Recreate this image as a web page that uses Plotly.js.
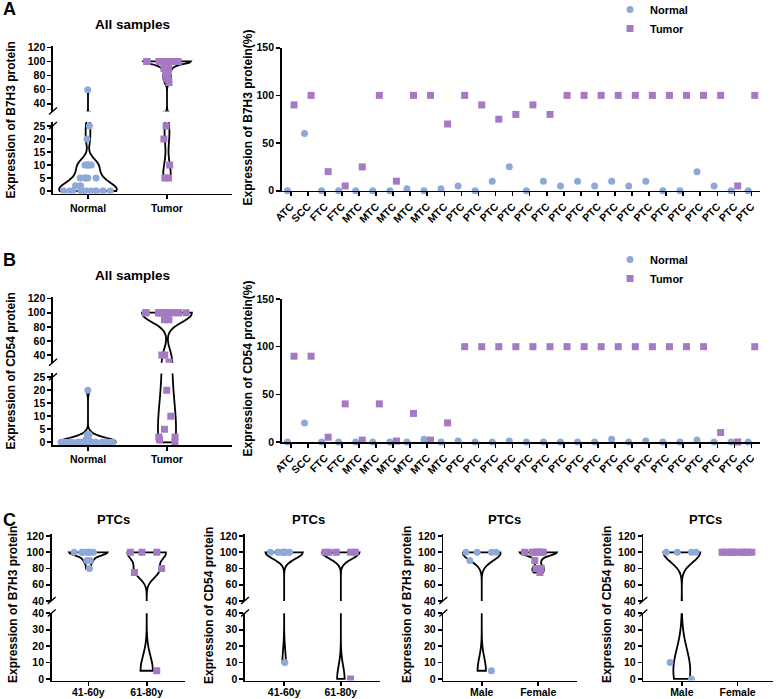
<!DOCTYPE html>
<html>
<head>
<meta charset="utf-8">
<script src="https://cdn.plot.ly/plotly-3.0.1.min.js"></script>
<style>
  body { margin: 0; background: white; }
  #plot { width: 777px; height: 699px; }
</style>
</head>
<body>
<div id="plot"></div>
<script>
// per-sample expression, 28 thyroid cancer cases
const sampleTypes = ['ATC', 'SCC', 'FTC', 'FTC', 'MTC', 'MTC', 'MTC', 'MTC', 'MTC', 'MTC',
    'PTC', 'PTC', 'PTC', 'PTC', 'PTC', 'PTC', 'PTC', 'PTC', 'PTC', 'PTC',
    'PTC', 'PTC', 'PTC', 'PTC', 'PTC', 'PTC', 'PTC', 'PTC'];
const b7h3Normal = [0, 60, 0, 0, 0, 0, 0, 2, 0, 2, 5, 0, 10, 25, 0, 10, 5, 10, 5, 10, 5, 10, 0, 0, 20, 5, 0, 0];
const b7h3Tumor = [90, 100, 20, 5, 25, 100, 10, 100, 100, 70, 100, 90, 75, 80, 90, 80, 100, 100, 100, 100,
    100, 100, 100, 100, 100, 100, 5, 100];
const cd54Normal = [0, 20, 0, 0, 0, 0, 0, 0, 3, 0, 1, 0, 0, 1, 0, 0, 0, 0, 0, 3, 0, 1, 0, 0, 2, 0, 0, 0];
const cd54Tumor = [90, 90, 5, 40, 2, 40, 1, 30, 2, 20, 100, 100, 100, 100, 100, 100, 100, 100, 100, 100,
    100, 100, 100, 100, 100, 10, 0, 100];

// PTC subgroups
const groupCats = ['Normal', 'Tumor'];
const ageCats = ['41-60y', '61-80y'];
const sexCats = ['Male', 'Female'];
const b7h3Age41 = [100, 100, 100, 100, 100, 100, 100, 100, 100, 90, 90, 80];
const b7h3Age61 = [100, 100, 100, 80, 75, 5];
const cd54Age41 = [100, 100, 100, 100, 100, 100, 100, 100, 100, 100, 100, 10];
const cd54Age61 = [100, 100, 100, 100, 100, 0];
const b7h3Male = [100, 100, 100, 100, 90, 5];
const b7h3Female = [100, 100, 100, 100, 100, 100, 100, 100, 90, 80, 80, 75];
const cd54Male = [100, 100, 100, 100, 10, 0];
const cd54Female = [100, 100, 100, 100, 100, 100, 100, 100, 100, 100, 100, 100];

const W = 777, H = 699;
const BLUE = '#8DA9D8', PURPLE = '#A679C4';
const FONT = 'Liberation Sans, Arial, sans-serif';

let data = [];
let layout = {
    width: W,
    height: H,
    margin: {l: 0, r: 0, t: 0, b: 0, autoexpand: false},
    paper_bgcolor: 'white',
    plot_bgcolor: 'rgba(0,0,0,0)',
    font: {family: FONT, color: 'black'},
    violinmode: 'overlay',
    scattermode: 'group',
    scattergap: 0.23,
    annotations: [],
    shapes: []
};

let xCount = 0, yCount = 0;
const axisId = (l, n) => n === 1 ? l : l + n;
const axisKey = (l, n) => l + 'axis' + (n === 1 ? '' : n);

function baseAxis(extra) {
    return Object.assign({
        showline: true, linecolor: 'black', linewidth: 1.6,
        ticks: 'outside', ticklen: 4, tickwidth: 1.6, tickcolor: 'black',
        showgrid: false, zeroline: false, fixedrange: true,
        tickfont: {family: FONT, size: 10.5, weight: 'bold', color: 'black'}
    }, extra);
}

function addText(text, x, y, size, angle) {
    layout.annotations.push({
        text: text, x: x / W, y: 1 - y / H, xref: 'paper', yref: 'paper',
        xanchor: 'center', yanchor: 'middle', showarrow: false, textangle: angle || 0,
        font: {family: FONT, size: size, weight: 'bold', color: 'black'}
    });
}

function breakMark(x, y) {
    layout.shapes.push({
        type: 'line', xref: 'paper', yref: 'paper',
        x0: (x - 4) / W, y0: 1 - (y + 3.5) / H, x1: (x + 4) / W, y1: 1 - (y - 3.5) / H,
        line: {color: 'black', width: 1.4}
    });
}

// violin panel with a broken y axis: same violins drawn in two stacked subplots
function brokenViolin(p) {
    const xn = ++xCount, bn = ++yCount, tn = ++yCount;
    const xa = axisId('x', xn), yb = axisId('y', bn), yt = axisId('y', tn);
    layout[axisKey('x', xn)] = baseAxis({
        domain: [p.left / W, p.right / W], anchor: yb, type: 'category',
        categoryorder: 'array', categoryarray: p.cats, range: p.xrange,
        ticklabelstandoff: p.standoff || 0
    });
    layout[axisKey('y', bn)] = baseAxis({
        domain: [1 - p.bot.px[1] / H, 1 - p.bot.px[0] / H], anchor: xa,
        range: p.bot.range, tickvals: p.bot.ticks
    });
    layout[axisKey('y', tn)] = baseAxis({
        domain: [1 - p.top.px[1] / H, 1 - p.top.px[0] / H], anchor: xa,
        range: p.top.range, tickvals: p.top.ticks
    });
    p.groups.forEach(g => {
        [yb, yt].forEach(ya => {
            data.push({
                type: 'violin', x: g.values.map(() => g.name), y: g.values,
                xaxis: xa, yaxis: ya, spanmode: 'hard', scalemode: 'width',
                points: 'all', pointpos: 0, jitter: 1, width: g.width, bandwidth: g.bw,
                line: {color: 'black', width: g.bw ? 1.8 : 0}, fillcolor: 'rgba(0,0,0,0)',
                marker: {color: g.color, symbol: g.symbol, size: 7, line: {width: 0}},
                showlegend: false, hoverinfo: 'skip'
            });
        });
    });
    breakMark(p.left, p.breaks[0]);
    breakMark(p.left, p.breaks[1]);
}

function samplePanel(p) {
    const xn = ++xCount, yn = ++yCount;
    const xa = axisId('x', xn), ya = axisId('y', yn);
    const idx = sampleTypes.map((t, i) => i);
    layout[axisKey('x', xn)] = baseAxis({
        domain: [p.left / W, p.right / W], anchor: ya, type: 'category',
        range: [-0.53, 27.5], tickvals: idx, ticktext: sampleTypes, tickangle: -45
    });
    layout[axisKey('y', yn)] = baseAxis({
        domain: [1 - p.px[1] / H, 1 - p.px[0] / H], anchor: xa,
        range: [0, 150], tickvals: [0, 50, 100, 150]
    });
    data.push({
        type: 'scatter', mode: 'markers', name: 'Normal', x: idx, y: p.normal,
        xaxis: xa, yaxis: ya, legend: p.legend, cliponaxis: false,
        marker: {color: BLUE, symbol: 'circle', size: 7}, hoverinfo: 'skip'
    });
    data.push({
        type: 'scatter', mode: 'markers', name: 'Tumor', x: idx, y: p.tumor,
        xaxis: xa, yaxis: ya, legend: p.legend, cliponaxis: false,
        marker: {color: PURPLE, symbol: 'square', size: 7}, hoverinfo: 'skip'
    });
}

const allTop = {range: [29, 122], ticks: [40, 60, 80, 100, 120]};
const allBot = {range: [-1, 26.5], ticks: [0, 5, 10, 15, 20, 25]};
const dyB = 251.3;

// ---- A: B7H3
brokenViolin({
    left: 53, right: 232, xrange: [-0.443, 1.823], cats: groupCats,
    top: Object.assign({px: [45.9, 111.5]}, allTop),
    bot: Object.assign({px: [122.1, 193.6]}, allBot),
    breaks: [111, 125.5],
    groups: [
        {name: 'Normal', values: b7h3Normal, color: BLUE, symbol: 'circle', width: 0.73, bw: 2.6},
        {name: 'Tumor', values: b7h3Tumor, color: PURPLE, symbol: 'square', width: 0.6, bw: 4}
    ]
});
samplePanel({left: 281.7, right: 760, px: [47.7, 190.7], normal: b7h3Normal, tumor: b7h3Tumor, legend: 'legend'});

// ---- B: CD54
brokenViolin({
    left: 53, right: 232, xrange: [-0.443, 1.823], cats: groupCats,
    top: Object.assign({px: [45.9 + dyB, 111.5 + dyB]}, allTop),
    bot: Object.assign({px: [122.1 + dyB, 193.6 + dyB]}, allBot),
    breaks: [111 + dyB, 125.5 + dyB],
    groups: [
        {name: 'Normal', values: cd54Normal, color: BLUE, symbol: 'circle', width: 0.7, bw: 1.5},
        {name: 'Tumor', values: cd54Tumor, color: PURPLE, symbol: 'square', width: 0.63, bw: 12}
    ]
});
samplePanel({left: 281.7, right: 760, px: [47.7 + dyB, 190.7 + dyB], normal: cd54Normal, tumor: cd54Tumor, legend: 'legend2'});

// ---- C: PTC subgroups
const cTop = {range: [40, 123], ticks: [40, 60, 80, 100, 120], px: [533.6, 601]};
const cBot = {range: [-1, 40], ticks: [0, 10, 20, 30, 40], px: [613.3, 680.6]};
const cPanels = [
    {left: 51.7, right: 185, xrange: [-0.627, 1.656], cats: ageCats, a: b7h3Age41, b: b7h3Age61, bw: [4, 9]},
    {left: 245, right: 380, xrange: [-0.69, 1.69], cats: ageCats, a: cd54Age41, b: cd54Age61, bw: [8, 8]},
    {left: 443.3, right: 576.7, xrange: [-0.68, 1.68], cats: sexCats, a: b7h3Male, b: b7h3Female, bw: [8, 4]},
    {left: 643.3, right: 773.3, xrange: [-0.69, 1.64], cats: sexCats, a: cd54Male, b: cd54Female, bw: [12, 0]}
];
cPanels.forEach(c => {
    brokenViolin({
        left: c.left, right: c.right, xrange: c.xrange, cats: c.cats, standoff: -3,
        top: cTop, bot: cBot, breaks: [600.5, 613],
        groups: [
            {name: c.cats[0], values: c.a, color: BLUE, symbol: 'circle', width: 0.66, bw: c.bw[0]},
            {name: c.cats[1], values: c.b, color: PURPLE, symbol: 'square', width: 0.66, bw: c.bw[1]}
        ]
    });
});

// legends
const legendBase = {
    xanchor: 'left', yanchor: 'top', bgcolor: 'rgba(0,0,0,0)',
    font: {family: FONT, size: 11, weight: 'bold', color: 'black'}
};
layout.legend = Object.assign({x: 610 / W, y: 1 + 5 / H}, legendBase);
layout.legend2 = Object.assign({x: 610 / W, y: 1 - 245 / H}, legendBase);

// labels and titles
addText('A', 9, 9, 18);
addText('B', 9, 260, 18);
addText('C', 9, 520, 18);
addText('All samples', 132, 24, 13.5);
addText('All samples', 132, 275.5, 13.5);
addText('Expression of B7H3 protein', 10.5, 120, 12, -90);
addText('Expression of CD54 protein', 10.5, 371, 12, -90);
addText('Expression of B7H3 protein(%)', 247, 117.5, 12, -90);
addText('Expression of CD54 protein(%)', 247, 368.5, 12, -90);
[113, 308, 505, 705].forEach(x => addText('PTCs', x, 519, 13));
addText('Expression of B7H3 protein', 13, 605, 12, -90);
addText('Expression of CD54 protein', 209, 605, 12, -90);
addText('Expression of B7H3 protein', 407, 605, 12, -90);
addText('Expression of CD54 protein', 607, 605, 12, -90);

Plotly.newPlot('plot', data, layout, {displayModeBar: false, staticPlot: true});
</script>
</body>
</html>
